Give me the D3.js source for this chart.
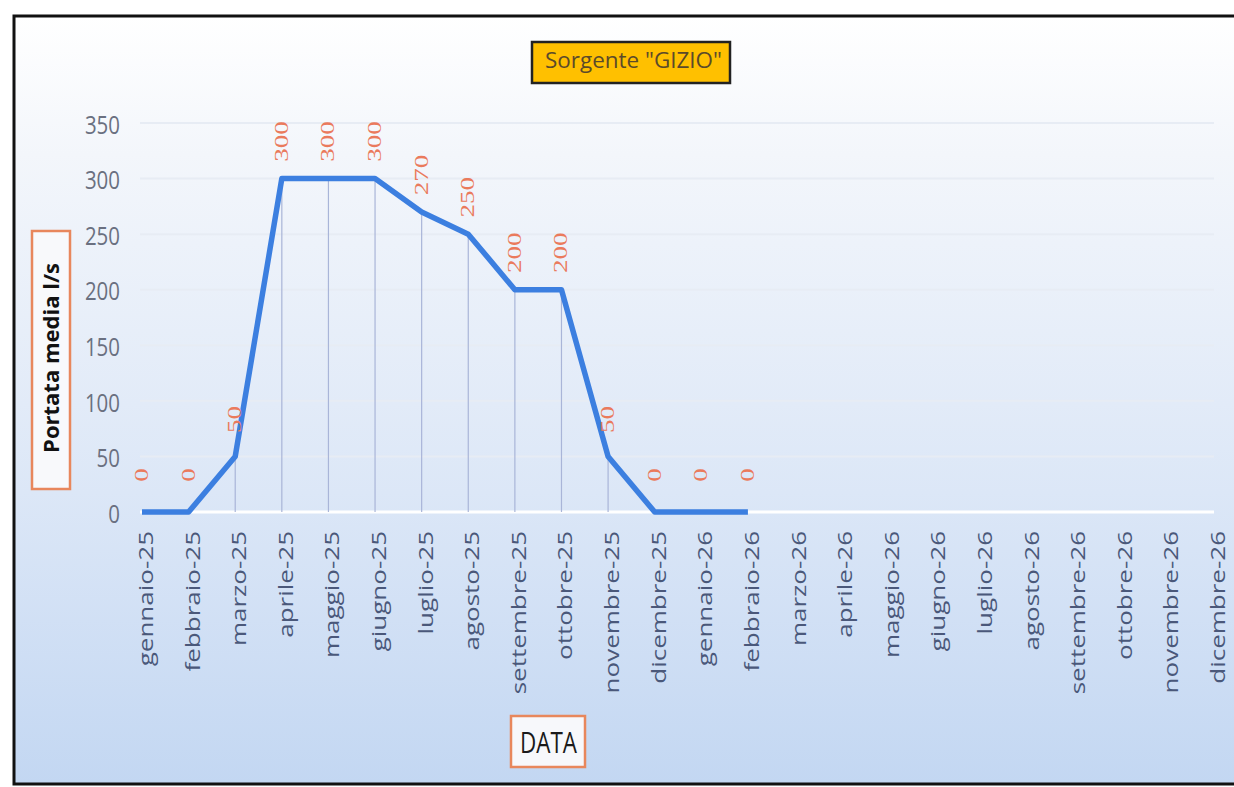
<!DOCTYPE html>
<html>
<head>
  <meta charset="utf-8">
  <title>Sorgente GIZIO</title>
  <script src="https://d3js.org/d3.v7.min.js"></script>
  <style>
    body { margin: 0; background: #fff; }
    svg { display: block; }
    .tick-x { font-family: "Open Sans", sans-serif; font-size: 26px; fill: #4a587a; }
    .tick-y { font-family: "Open Sans", sans-serif; font-size: 25px; fill: #6a7080; }
    .dlabel { font-family: "Liberation Serif", serif; font-size: 27px; fill: #ea7a5c; }
  </style>
</head>
<body>
  <svg id="chart" width="1234" height="787"></svg>
  <script>

    // ---- data ----
    const months = [
      "gennaio-25", "febbraio-25", "marzo-25", "aprile-25", "maggio-25", "giugno-25",
      "luglio-25", "agosto-25", "settembre-25", "ottobre-25", "novembre-25", "dicembre-25",
      "gennaio-26", "febbraio-26", "marzo-26", "aprile-26", "maggio-26", "giugno-26",
      "luglio-26", "agosto-26", "settembre-26", "ottobre-26", "novembre-26", "dicembre-26"
    ];
    // portata media l/s, only recorded up to febbraio-26
    const portata = [0, 0, 50, 300, 300, 300, 270, 250, 200, 200, 50, 0, 0, 0];
    const yTicks = [0, 50, 100, 150, 200, 250, 300, 350];

    const chartTitle = 'Sorgente "GIZIO"';
    const yTitle = "Portata media l/s";
    const xTitle = "DATA";

    const svg = d3.select("#chart");

    // background gradient, white at top to pale blue at bottom
    const defs = svg.append("defs");
    const grad = defs.append("linearGradient").attr("id", "bg")
                     .attr("x1", 0).attr("y1", 0).attr("x2", 0).attr("y2", 1);
    grad.append("stop").attr("offset", "0%").attr("stop-color", "#ffffff");
    grad.append("stop").attr("offset", "18%").attr("stop-color", "#f3f6fb");
    grad.append("stop").attr("offset", "62%").attr("stop-color", "#dce7f7");
    grad.append("stop").attr("offset", "100%").attr("stop-color", "#c3d7f2");

    svg.append("rect")
       .attr("x", 14).attr("y", 16).attr("width", 1240).attr("height", 768)
       .attr("fill", "url(#bg)")
       .attr("stroke", "#111").attr("stroke-width", 3);

    // scales
    const x = d3.scalePoint().domain(months).range([142, 1214]);
    const y = d3.scaleLinear().domain([0, 350]).range([512, 123]);

    // horizontal gridlines
    svg.append("g").selectAll("line").data(yTicks).join("line")
       .attr("x1", 140).attr("x2", 1214)
       .attr("y1", d => y(d)).attr("y2", d => y(d))
       .attr("stroke", d => d === 0 ? "#ffffff" : "#e7ecf4")
       .attr("stroke-width", d => d === 0 ? 3 : 2);

    // y axis labels (narrow, like the original)
    svg.append("g").selectAll("text").data(yTicks).join("text")
       .attr("class", "tick-y")
       .attr("x", 120).attr("y", d => y(d) + 2)
       .attr("text-anchor", "end").attr("dy", "0.35em")
       .attr("textLength", d => String(d).length * 11.7)
       .attr("lengthAdjust", "spacingAndGlyphs")
       .text(d => d);

    // x axis labels, rotated
    svg.append("g").selectAll("text").data(months).join("text")
       .attr("class", "tick-x")
       .attr("transform", d => `translate(${x(d) + 11},531) rotate(-90) scale(1,0.74)`)
       .attr("text-anchor", "end")
       .text(d => d);

    const pts = portata.map((v, i) => ({ m: months[i], v: v }));

    // drop lines
    svg.append("g").selectAll("line").data(pts).join("line")
       .attr("x1", d => x(d.m)).attr("x2", d => x(d.m))
       .attr("y1", d => y(d.v)).attr("y2", y(0))
       .attr("stroke", "#a9b5d8").attr("stroke-width", 1.2);

    // the line
    const line = d3.line().x(d => x(d.m)).y(d => y(d.v));
    svg.append("path").datum(pts)
       .attr("d", line)
       .attr("fill", "none")
       .attr("stroke", "#3c7fe0")
       .attr("stroke-width", 5.5)
       .attr("stroke-linejoin", "round");

    // data labels, rotated
    svg.append("g").selectAll("text").data(pts).join("text")
       .attr("class", "dlabel")
       .attr("transform", d => `translate(${x(d.m) + 6},${y(d.v) - 37}) rotate(-90) scale(1,0.72)`)
       .attr("text-anchor", "middle")
       .text(d => d.v);

    // title box
    const tg = svg.append("g");
    tg.append("rect").attr("x", 532).attr("y", 42).attr("width", 198).attr("height", 41)
      .attr("fill", "#ffc000").attr("stroke", "#222").attr("stroke-width", 2.5);
    tg.append("text").attr("x", 545).attr("y", 68)
      .attr("textLength", 177).attr("lengthAdjust", "spacingAndGlyphs")
      .style("font-family", "'Open Sans', sans-serif").style("font-size", "21px").style("fill", "#5b4a2a")
      .text(chartTitle);

    // y title box
    const yg = svg.append("g");
    yg.append("rect").attr("x", 32).attr("y", 231).attr("width", 38).attr("height", 258)
      .attr("fill", "#f8f9fb").attr("stroke", "#e8875c").attr("stroke-width", 2.5);
    yg.append("text").attr("transform", "translate(59,358) rotate(-90)")
      .attr("text-anchor", "middle")
      .style("font-family", "'Open Sans', sans-serif").style("font-size", "22px")
      .style("font-weight", "bold").style("fill", "#111")
      .text(yTitle);

    // x title box
    const xg = svg.append("g");
    xg.append("rect").attr("x", 511).attr("y", 716).attr("width", 74).attr("height", 51)
      .attr("fill", "#f7f8fb").attr("stroke", "#e8875c").attr("stroke-width", 2.5);
    xg.append("text").attr("x", 520).attr("y", 753)
      .attr("textLength", 57).attr("lengthAdjust", "spacingAndGlyphs")
      .style("font-family", "'Open Sans', sans-serif").style("font-size", "29px").style("fill", "#1a1a1a")
      .text(xTitle);

  </script>
</body>
</html>
